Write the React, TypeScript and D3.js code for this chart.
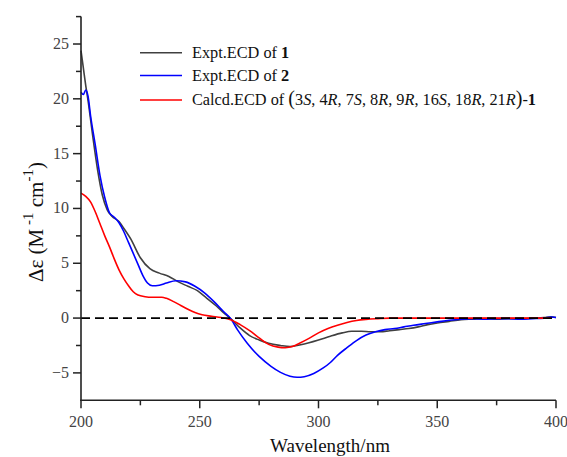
import React from "react";
import * as d3 from "d3";

const expt1: [number, number][] = [
  [200, 24.4], [201, 22.8], [202, 21.2], [203, 19.8], [205, 16.5], [207, 13.5], [209, 11.2],
  [211, 9.9], [213, 9.3], [216, 8.8], [218, 8.2], [221, 7.2], [225, 5.5], [229, 4.5],
  [233, 4.1], [237, 3.8], [241, 3.3], [245, 2.9], [249, 2.5], [253, 1.8], [257, 1.1],
  [260, 0.5], [263, -0.05], [267, -0.9], [271, -1.6], [275, -2.0], [279, -2.3], [284, -2.5],
  [288, -2.6], [292, -2.45], [296, -2.25], [300, -2.0], [305, -1.65], [310, -1.35],
  [314, -1.2], [318, -1.2], [322, -1.25], [326, -1.25], [330, -1.15], [334, -1.05],
  [338, -0.95], [342, -0.8], [346, -0.6], [350, -0.45], [355, -0.3], [360, -0.15],
  [365, -0.1], [370, -0.05], [375, -0.1], [380, -0.05], [385, -0.05], [390, 0.0],
  [395, 0.05], [398, 0.12], [400, 0.05],
];

const expt2: [number, number][] = [
  [200, 20.6], [201, 20.4], [202, 20.8], [203, 20.2], [204, 18.5], [206, 15.8], [208, 13.0],
  [210, 11.0], [212, 9.6], [214, 9.2], [216, 8.7], [218, 7.9], [220, 6.9], [222, 5.9],
  [224, 4.9], [226, 3.9], [228, 3.2], [230, 2.95], [233, 3.0], [236, 3.2], [240, 3.4],
  [244, 3.3], [248, 2.9], [252, 2.3], [256, 1.5], [260, 0.6], [263, -0.05], [266, -1.1],
  [270, -2.3], [275, -3.5], [280, -4.4], [284, -4.95], [288, -5.3], [291, -5.4],
  [294, -5.35], [298, -5.05], [302, -4.55], [305, -4.05], [308, -3.4], [312, -2.7],
  [316, -2.05], [320, -1.55], [324, -1.25], [328, -1.05], [332, -0.95], [336, -0.8],
  [340, -0.65], [345, -0.5], [350, -0.35], [355, -0.2], [360, -0.1], [365, -0.05],
  [370, -0.1], [375, -0.05], [380, -0.05], [385, -0.1], [390, -0.05], [395, 0.0],
  [398, 0.1], [400, 0.05],
];

const calcd: [number, number][] = [
  [200, 11.4], [202, 11.1], [204, 10.6], [206, 9.7], [208, 8.6], [210, 7.5], [212, 6.5],
  [214, 5.4], [216, 4.4], [218, 3.6], [220, 2.95], [222, 2.4], [224, 2.1], [227, 1.95],
  [230, 1.9], [234, 1.9], [236, 1.8], [239, 1.5], [242, 1.15], [245, 0.8], [248, 0.5],
  [251, 0.3], [255, 0.17], [259, 0.05], [263, -0.15], [267, -0.6], [271, -1.15],
  [275, -1.8], [279, -2.4], [283, -2.65], [286, -2.7], [289, -2.6], [292, -2.3],
  [296, -1.85], [300, -1.35], [304, -0.95], [308, -0.65], [312, -0.4], [316, -0.22],
  [320, -0.12], [325, -0.05], [330, 0], [340, 0], [350, 0], [360, 0], [370, 0], [380, 0],
  [390, 0], [398, 0],
];

const xMajor = [200, 250, 300, 350, 400];
const xMinor = [225, 275, 325, 375];
const yMajor = [-5, 0, 5, 10, 15, 20, 25];
const yMinor = [-2.5, 2.5, 7.5, 12.5, 17.5, 22.5, 27.5];

const series = [
  { name: "expt1", data: expt1, color: "#404040" },
  { name: "expt2", data: expt2, color: "#0000ff" },
  { name: "calcd", data: calcd, color: "#ff0000" },
];

const FONT = "Liberation Serif";

function T(props: any) {
  const { children, style, ...rest } = props;
  return (
    <text {...rest} fontFamily={FONT} style={{ fontFamily: FONT, ...(style || {}) }}>
      {children}
    </text>
  );
}

export default function App() {
  const W = 567, H = 457;
  const x = d3.scaleLinear().domain([200, 400]).range([81, 556]);
  const y = d3.scaleLinear().domain([-7.5, 27.5]).range([400.3, 16.6]);
  const line = d3
    .line<[number, number]>()
    .x((d) => x(d[0]))
    .y((d) => y(d[1]))
    .curve(d3.curveMonotoneX);
  const axisColor = "#222";
  const legendY = [52.7, 75.5, 100];
  const LF = 16.3;
  return (
    <div style={{ position: "absolute", left: 0, top: 0, width: W, height: H, fontFamily: FONT }}>
      <svg width={W} height={H} style={{ display: "block" }}>
        <rect width={W} height={H} fill="#fff" />
        {series.map((s) => (
          <path key={s.name} d={line(s.data) || ""} fill="none" stroke={s.color} strokeWidth={1.6} />
        ))}
        <line x1={x(200)} x2={x(400)} y1={y(0)} y2={y(0)} stroke="#000" strokeWidth={1.8} strokeDasharray="9,5" />
        <line x1={x(200)} x2={x(200)} y1={y(27.5)} y2={y(-7.5) + 0.8} stroke={axisColor} strokeWidth={1.6} />
        <line x1={x(200) - 0.8} x2={x(400)} y1={y(-7.5)} y2={y(-7.5)} stroke={axisColor} strokeWidth={1.6} />
        {yMajor.map((v) => (
          <g key={"ym" + v}>
            <line x1={x(200) - 8} x2={x(200)} y1={y(v)} y2={y(v)} stroke={axisColor} strokeWidth={1.5} />
            <T x={x(200) - 12} y={y(v) + 5} textAnchor="end" fontSize={16} fill="#444">
              {v < 0 ? "\u2212" + Math.abs(v) : String(v)}
            </T>
          </g>
        ))}
        {yMinor.map((v) => (
          <line key={"yn" + v} x1={x(200) - 5} x2={x(200)} y1={y(v)} y2={y(v)} stroke={axisColor} strokeWidth={1.5} />
        ))}
        {xMajor.map((v) => (
          <g key={"xm" + v}>
            <line x1={x(v)} x2={x(v)} y1={y(-7.5)} y2={y(-7.5) + 8} stroke={axisColor} strokeWidth={1.5} />
            <T x={x(v)} y={427} textAnchor="middle" fontSize={16} fill="#444">
              {String(v)}
            </T>
          </g>
        ))}
        {xMinor.map((v) => (
          <line key={"xn" + v} x1={x(v)} x2={x(v)} y1={y(-7.5)} y2={y(-7.5) + 5} stroke={axisColor} strokeWidth={1.5} />
        ))}
        <T x={330} y={452} textAnchor="middle" fontSize={19} fill="#111">
          Wavelength/nm
        </T>
        <T transform="translate(43,222) rotate(-90)" textAnchor="middle" fontSize={21} fill="#111">
          <tspan>Δε (M</tspan>
          <tspan dy={-10} fontSize={15}> -1</tspan>
          <tspan dy={10}>  cm</tspan>
          <tspan dy={-10} fontSize={15}>-1</tspan>
          <tspan dy={10}>)</tspan>
        </T>
        {series.map((s, i) => (
          <line key={"lg" + s.name} x1={140} x2={182} y1={legendY[i]} y2={legendY[i]} stroke={s.color} strokeWidth={1.6} />
        ))}
        <T x={192} y={legendY[0] + 5} fontSize={LF} fill="#111">
          Expt.ECD of <tspan fontWeight="bold">1</tspan>
        </T>
        <T x={192} y={legendY[1] + 5} fontSize={LF} fill="#111">
          Expt.ECD of <tspan fontWeight="bold">2</tspan>
        </T>
        <T x={192} y={legendY[2] + 5} fontSize={LF} fill="#111">
          Calcd.ECD of <tspan fontSize={20}>(</tspan>3<tspan fontStyle="italic">S</tspan>, 4<tspan fontStyle="italic">R</tspan>, 7<tspan fontStyle="italic">S</tspan>, 8<tspan fontStyle="italic">R</tspan>, 9<tspan fontStyle="italic">R</tspan>, 16<tspan fontStyle="italic">S</tspan>, 18<tspan fontStyle="italic">R</tspan>, 21<tspan fontStyle="italic">R</tspan><tspan fontSize={20}>)</tspan>-<tspan fontWeight="bold">1</tspan>
        </T>
      </svg>
    </div>
  );
}
